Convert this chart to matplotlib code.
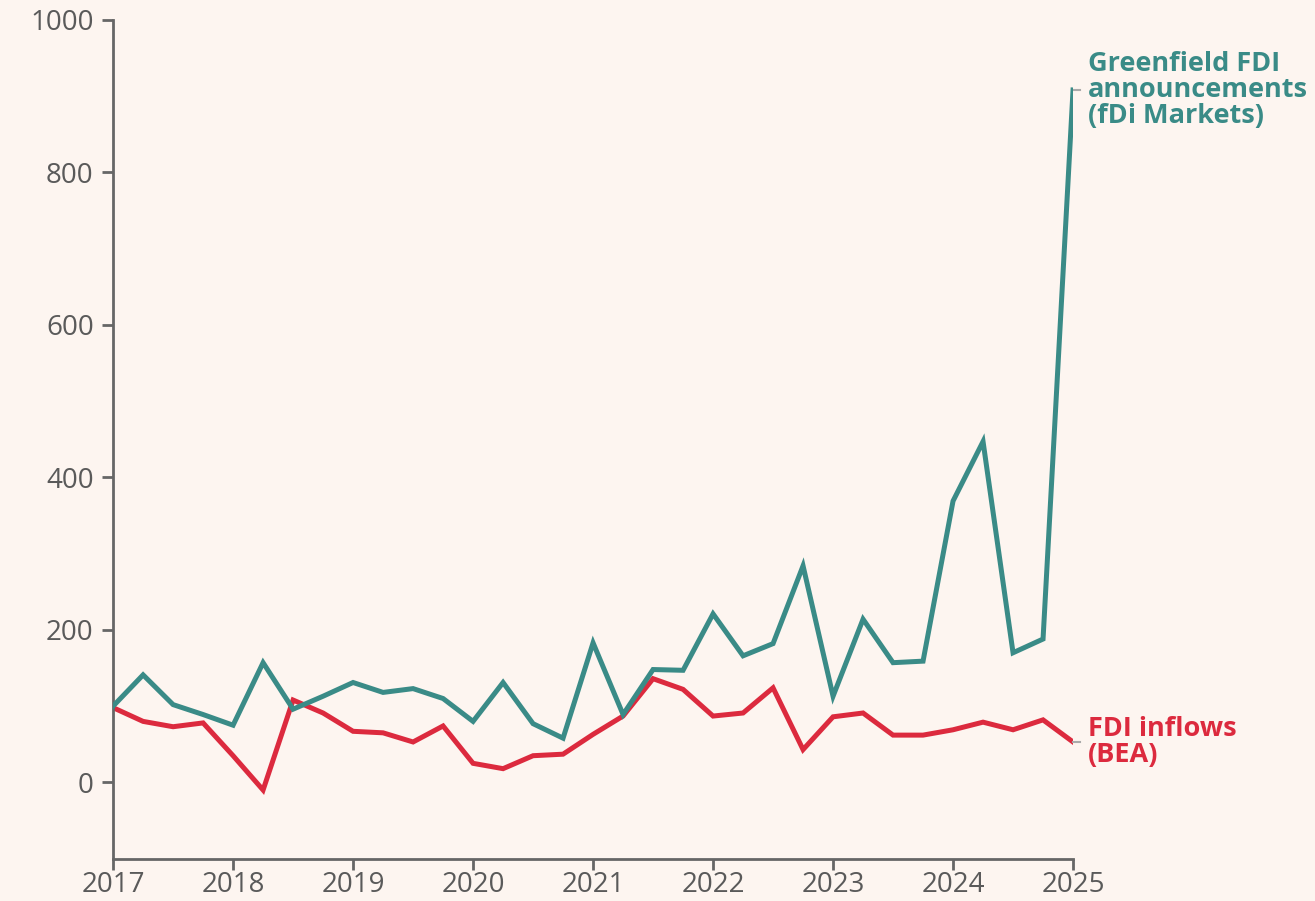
import matplotlib
matplotlib.use("Agg")
import matplotlib.pyplot as plt
import numpy as np

# Quarterly index values, 2017Q1 = 100
quarters = np.arange(2017, 2025.01, 0.25)
greenfield = [100, 141, 102, 89, 75, 157, 96, 113, 131, 118, 123, 110, 80,
              131, 77, 58, 183, 89, 148, 147, 221, 166, 182, 284, 113, 214,
              157, 159, 369, 447, 170, 188, 908]
inflows = [98, 80, 73, 78, 35, -10, 108, 91, 67, 65, 53, 74, 25,
           18, 35, 37, 63, 87, 136, 122, 87, 91, 124, 43, 86, 91,
           62, 62, 69, 79, 69, 82, 53]
year_ticks = list(range(2017, 2026))
value_ticks = [0, 200, 400, 600, 800, 1000]

bg = "#fdf5f0"
teal = "#3a8b87"
red = "#dc2a3e"
axis_grey = "#666666"

plt.rcParams['font.family'] = ['Open Sans', 'DejaVu Sans']

fig = plt.figure(figsize=(13.15, 9.01), dpi=100, facecolor=bg)
ax = fig.add_axes([0.086, 0.047, 0.730, 0.931], facecolor=bg)

ax.plot(quarters, greenfield, color=teal, lw=3.6, solid_joinstyle='miter', zorder=3)
ax.plot(quarters, inflows, color=red, lw=3.6, solid_joinstyle='miter', zorder=2)

ax.set_xlim(2017, 2025)
ax.set_ylim(-100, 1000)
ax.set_xticks(year_ticks)
ax.set_yticks(value_ticks)
ax.tick_params(axis='both', length=8, width=2, color=axis_grey,
               labelsize=20, labelcolor="#5a5a5a")
ax.tick_params(axis='x', pad=1)
ax.tick_params(axis='y', pad=6)

for side in ['top', 'right']:
    ax.spines[side].set_visible(False)
for side in ['left', 'bottom']:
    ax.spines[side].set_color(axis_grey)
    ax.spines[side].set_linewidth(2)

# Series labels with small leader ticks
ax.plot([quarters[-1], quarters[-1] + 0.06], [greenfield[-1]] * 2,
        color="#aaaaaa", lw=1.5, clip_on=False)
ax.plot([quarters[-1], quarters[-1] + 0.06], [inflows[-1]] * 2,
        color="#aaaaaa", lw=1.5, clip_on=False)
ax.annotate("Greenfield FDI\nannouncements\n(fDi Markets)",
            xy=(quarters[-1], greenfield[-1]), xytext=(11, 0),
            textcoords='offset points', va='center', ha='left',
            color=teal, fontsize=19.5, fontweight='bold', linespacing=0.98,
            annotation_clip=False)
ax.annotate("FDI inflows\n(BEA)",
            xy=(quarters[-1], inflows[-1]), xytext=(11, 0),
            textcoords='offset points', va='center', ha='left',
            color=red, fontsize=19.5, fontweight='bold', linespacing=0.98,
            annotation_clip=False)

fig.savefig("out.png", dpi=100, facecolor=bg)
